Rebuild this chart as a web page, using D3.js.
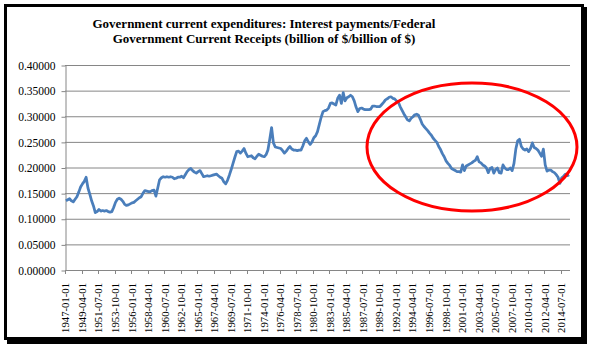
<!DOCTYPE html>
<html>
<head>
<meta charset="utf-8">
<script src="https://cdn.jsdelivr.net/npm/d3@7"></script>
<style>
  html, body { margin: 0; padding: 0; background: #fff; }
  text { font-family: "Liberation Serif", "Times New Roman", serif; }
</style>
</head>
<body>
<svg id="chart" width="594" height="351"></svg>
<script>
// Quarterly series, 1947 Q1 .. 2015 Q3 (one row per year)
const values = [
  0.135, 0.137, 0.139, 0.135,
  0.133, 0.138, 0.143, 0.152,
  0.162, 0.168, 0.173, 0.181,
  0.160, 0.148, 0.135, 0.125,
  0.112, 0.114, 0.118, 0.115,
  0.116, 0.115, 0.116, 0.114,
  0.113, 0.114, 0.122, 0.132,
  0.138, 0.140, 0.138, 0.134,
  0.128, 0.126, 0.127, 0.129,
  0.131, 0.132, 0.135, 0.138,
  0.141, 0.143, 0.150, 0.155,
  0.154, 0.153, 0.153, 0.155,
  0.156, 0.144, 0.160, 0.176,
  0.180, 0.182, 0.181, 0.182,
  0.181, 0.182, 0.181, 0.178,
  0.179, 0.181, 0.181, 0.183,
  0.180, 0.186, 0.192, 0.196,
  0.198, 0.194, 0.191, 0.189,
  0.192, 0.194, 0.188, 0.182,
  0.183, 0.184, 0.183, 0.184,
  0.185, 0.186, 0.187, 0.184,
  0.181, 0.179, 0.172, 0.168,
  0.175, 0.185, 0.196, 0.208,
  0.220, 0.231, 0.232, 0.228,
  0.232, 0.237, 0.228, 0.221,
  0.222, 0.223, 0.219, 0.217,
  0.222, 0.226, 0.224, 0.222,
  0.221, 0.225, 0.234, 0.255,
  0.278, 0.248, 0.240, 0.239,
  0.238, 0.237, 0.233, 0.228,
  0.232, 0.237, 0.241, 0.236,
  0.234, 0.234, 0.233, 0.234,
  0.234, 0.242, 0.252, 0.257,
  0.250, 0.245, 0.250, 0.258,
  0.262, 0.270, 0.284, 0.298,
  0.309, 0.311, 0.312, 0.316,
  0.325, 0.326, 0.324, 0.322,
  0.335, 0.341, 0.325, 0.346,
  0.330, 0.336, 0.338, 0.341,
  0.338, 0.330, 0.318, 0.309,
  0.315, 0.316, 0.314, 0.313,
  0.313, 0.313, 0.314, 0.320,
  0.320, 0.319, 0.319, 0.319,
  0.323, 0.327, 0.332, 0.334,
  0.337, 0.338, 0.335, 0.334,
  0.330, 0.328, 0.319, 0.312,
  0.305, 0.299, 0.293, 0.291,
  0.296, 0.299, 0.303, 0.304,
  0.302, 0.294, 0.285, 0.280,
  0.276, 0.272, 0.267, 0.263,
  0.257, 0.253, 0.249, 0.241,
  0.235, 0.227, 0.221, 0.213,
  0.208, 0.204, 0.198, 0.196,
  0.194, 0.192, 0.192, 0.191,
  0.205, 0.194, 0.203, 0.205,
  0.207, 0.209, 0.212, 0.214,
  0.221, 0.211, 0.209, 0.205,
  0.203, 0.199, 0.190, 0.198,
  0.200, 0.189, 0.196, 0.199,
  0.190, 0.189, 0.205, 0.199,
  0.196, 0.196, 0.199, 0.194,
  0.208, 0.236, 0.252, 0.255,
  0.241, 0.236, 0.234, 0.236,
  0.231, 0.237, 0.248, 0.239,
  0.237, 0.234, 0.228, 0.222,
  0.236, 0.205, 0.193, 0.195,
  0.195, 0.192, 0.190, 0.186,
  0.181, 0.169, 0.180, 0.183,
  0.187, 0.184, 0.186
];

const startYear = 1947;
const months = ["01", "04", "07", "10"];
// category labels, one per quarter
const categories = values.map((v, i) => (startYear + Math.floor(i / 4)) + "-" + months[i % 4] + "-01");

const yTicks = [0, 0.05, 0.10, 0.15, 0.20, 0.25, 0.30, 0.35, 0.40];
const labelEvery = 9;
const titleLines = [
  "Government current expenditures: Interest payments/Federal",
  "Government Current Receipts (billion of $/billion of $)"
];

const svg = d3.select("#chart");

// Frame with shadow on right/bottom
svg.append("rect")
  .attr("x", 7).attr("y", 7).attr("width", 580).attr("height", 337)
  .attr("fill", "#000");
svg.append("rect")
  .attr("x", 5.5).attr("y", 5.5).attr("width", 577).attr("height", 333)
  .attr("fill", "#fff").attr("stroke", "#000").attr("stroke-width", 3);

const plot = { left: 65, right: 570, top: 65, bottom: 270 };

const x = d3.scaleBand()
  .domain(categories)
  .range([plot.left, plot.right]);

const y = d3.scaleLinear()
  .domain([0, 0.4])
  .range([plot.bottom, plot.top]);

// Title
titleLines.forEach((t, i) => {
  svg.append("text")
    .attr("x", 264)
    .attr("y", 28 + i * 15)
    .attr("text-anchor", "middle")
    .attr("font-size", "13px")
    .attr("font-weight", "bold")
    .text(t);
});

// Gridlines
svg.append("g")
  .selectAll("line")
  .data(yTicks)
  .join("line")
  .attr("x1", plot.left).attr("x2", plot.right)
  .attr("y1", d => y(d) + 0.5).attr("y2", d => y(d) + 0.5)
  .attr("stroke", "#868686").attr("stroke-width", 1);

// Y axis
const yAxis = svg.append("g")
  .attr("transform", "translate(" + (plot.left + 0.5) + ",0.5)")
  .call(d3.axisLeft(y).tickValues(yTicks).tickSize(4).tickSizeOuter(0).tickFormat(d3.format(".5f")));
yAxis.select(".domain").attr("stroke", "#868686");
yAxis.selectAll(".tick line").attr("stroke", "#868686");
yAxis.selectAll(".tick text")
  .attr("x", -10)
  .attr("font-size", "11.5px")
  .attr("font-family", "'Liberation Serif', serif")
  .attr("fill", "#000");

// X axis ticks at category boundaries every 9
const tickIdx = d3.range(0, categories.length + 1, labelEvery);
svg.append("g")
  .selectAll("line")
  .data(tickIdx)
  .join("line")
  .attr("x1", i => Math.round(plot.left + i * x.step()) + 0.5)
  .attr("x2", i => Math.round(plot.left + i * x.step()) + 0.5)
  .attr("y1", plot.bottom).attr("y2", plot.bottom + 4)
  .attr("stroke", "#868686");

// X labels
svg.append("g")
  .selectAll("text")
  .data(categories.filter((c, i) => i % labelEvery === 0))
  .join("text")
  .attr("transform", d => "translate(" + (x(d) + x.bandwidth() / 2 + 3.5) + "," + (plot.bottom + 13) + ") rotate(-90)")
  .attr("text-anchor", "end")
  .attr("font-size", "10.7px")
  .text(d => d);

// Series line
const line = d3.line()
  .x((d, i) => x(categories[i]) + x.bandwidth() / 2)
  .y(d => y(d));

svg.append("path")
  .datum(values)
  .attr("d", line)
  .attr("fill", "none")
  .attr("stroke", "#4a7ebb")
  .attr("stroke-width", 2.75)
  .attr("stroke-linejoin", "round");

// Red highlight ellipse
svg.append("ellipse")
  .attr("cx", 472).attr("cy", 147)
  .attr("rx", 105).attr("ry", 64)
  .attr("fill", "none")
  .attr("stroke", "#ff0000")
  .attr("stroke-width", 3);
</script>
</body>
</html>
